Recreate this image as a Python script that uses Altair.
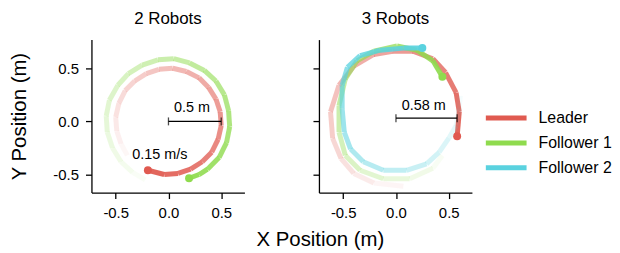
import altair as alt
import pandas as pd

FONT = "Liberation Sans"

series = ["Leader", "Follower 1", "Follower 2"]
series_colors = ["#E05A50", "#8FDB4E", "#5AD2DF"]
panel_titles = ["2 Robots", "3 Robots"]

# ---- 2 Robots (in time order) ----
r2_leader_x = [-0.39, -0.45, -0.49, -0.50, -0.47, -0.41, -0.32, -0.21, -0.09, 0.04, 0.17, 0.29,
               0.38, 0.45, 0.49, 0.50, 0.47, 0.41, 0.32, 0.21, 0.09, -0.04, -0.195]
r2_leader_y = [-0.32, -0.21, -0.09, 0.04, 0.17, 0.29, 0.38, 0.45, 0.49, 0.50, 0.47, 0.41,
               0.32, 0.21, 0.09, -0.04, -0.17, -0.29, -0.38, -0.45, -0.49, -0.50, -0.46]
r2_f1_x = [-0.22, -0.34, -0.45, -0.53, -0.58, -0.59, -0.56, -0.48, -0.38, -0.25, -0.10, 0.05,
           0.20, 0.34, 0.45, 0.53, 0.57, 0.58, 0.55, 0.48, 0.37, 0.29, 0.195]
r2_f1_y = [-0.55, -0.48, -0.38, -0.25, -0.10, 0.05, 0.20, 0.34, 0.45, 0.53, 0.58, 0.59,
           0.55, 0.48, 0.38, 0.25, 0.10, -0.05, -0.20, -0.34, -0.45, -0.50, -0.535]

# ---- 3 Robots ----
r3_leader_x = [0.07, -0.21, -0.40, -0.52, -0.60, -0.62, -0.54, -0.40, -0.21, -0.03, 0.16, 0.35,
               0.47, 0.57, 0.60, 0.58]
r3_leader_y = [-0.61, -0.58, -0.49, -0.35, -0.16, 0.09, 0.34, 0.52, 0.63, 0.66, 0.66, 0.59,
               0.46, 0.27, 0.09, -0.14]
r3_f1_x = [0.44, 0.35, 0.13, -0.12, -0.34, -0.48, -0.54, -0.54, -0.48, -0.37, -0.21, 0.01,
           0.20, 0.35, 0.44]
r3_f1_y = [-0.32, -0.44, -0.54, -0.54, -0.46, -0.32, -0.10, 0.15, 0.40, 0.57, 0.66, 0.71,
           0.67, 0.57, 0.42]
r3_f2_x = [0.61, 0.60, 0.57, 0.50, 0.41, 0.29, 0.10, -0.12, -0.31, -0.43, -0.49, -0.51,
           -0.51, -0.46, -0.34, -0.15, 0.07, 0.25]
r3_f2_y = [0.24, 0.12, -0.04, -0.16, -0.29, -0.40, -0.46, -0.46, -0.38, -0.26, -0.10, 0.12,
           0.34, 0.51, 0.62, 0.67, 0.69, 0.69]

# scale bars and annotations per panel
bar_x0 = [0.0, 0.0]
bar_x1 = [0.5, 0.58]
bar_y = [0.0, 0.03]
bar_labels = ["0.5 m", "0.58 m"]
bar_label_x = [0.224, 0.264]
bar_label_y = [0.087, 0.103]
speed_label = "0.15 m/s"
speed_label_x = -0.082
speed_label_y = -0.358

X_DOMAIN = [-0.73, 0.72]
Y_DOMAIN = [-0.67, 0.77]
TICKS = [-0.5, 0.0, 0.5]
LABEL_EXPR = "datum.value < 0 ? '-' + format(-datum.value, '.1f') : format(datum.value, '.1f')"
PW, PH = 154, 154


def segment_rows(xs, ys, name):
    rows = []
    n = len(xs)
    for i in range(n - 1):
        a = 0.03 + 0.92 * (i + 0.5) / (n - 1)
        for k in (0, 1):
            rows.append(dict(x=xs[i + k], y=ys[i + k], robot=name,
                             seg=f"{name}-{i}", ord=k, alpha=a))
    return rows


color_scale = alt.Scale(domain=series, range=series_colors)
title_style = dict(fontSize=17, font=FONT, fontWeight="normal", color="black", offset=12)


def panel(trajs, idx, show_y_labels):
    seg = []
    ends = []
    for (xs, ys, name) in trajs:
        seg += segment_rows(xs, ys, name)
        ends.append(dict(x=xs[-1], y=ys[-1], robot=name))
    seg_df = pd.DataFrame(seg)
    end_df = pd.DataFrame(ends)

    xax = alt.Axis(values=TICKS, labelExpr=LABEL_EXPR, title=None)
    if show_y_labels:
        yax = alt.Axis(values=TICKS, labelExpr=LABEL_EXPR, title="Y Position (m)")
    else:
        yax = alt.Axis(values=TICKS, labels=False, title=None)

    xs = alt.Scale(domain=X_DOMAIN, nice=False, zero=False)
    ys = alt.Scale(domain=Y_DOMAIN, nice=False, zero=False)

    lines = alt.Chart(seg_df).mark_line(strokeWidth=5, strokeCap="butt", clip=True).encode(
        x=alt.X("x:Q", scale=xs, axis=xax),
        y=alt.Y("y:Q", scale=ys, axis=yax),
        color=alt.Color("robot:N", scale=color_scale, legend=None),
        detail="seg:N",
        order="ord:Q",
        opacity=alt.Opacity("alpha:Q", scale=None, legend=None),
    )
    dots = alt.Chart(end_df).mark_circle(size=64, opacity=1).encode(
        x="x:Q", y="y:Q",
        color=alt.Color("robot:N", scale=color_scale, legend=None),
    )
    bar_df = pd.DataFrame(dict(x0=[bar_x0[idx]], x1=[bar_x1[idx]], y=[bar_y[idx]]))
    bar = alt.Chart(bar_df).mark_rule(color="black", strokeWidth=1.3).encode(
        x="x0:Q", x2="x1:Q", y="y:Q")
    caps_df = pd.DataFrame(dict(x=[bar_x0[idx], bar_x1[idx]], y=[bar_y[idx]] * 2))
    caps = alt.Chart(caps_df).mark_tick(orient="vertical", size=8, thickness=1.3,
                                        color="black").encode(x="x:Q", y="y:Q")
    lab_df = pd.DataFrame(dict(x=[bar_label_x[idx]], y=[bar_label_y[idx]],
                               t=[bar_labels[idx]]))
    if idx == 0:
        lab_df = pd.concat([lab_df, pd.DataFrame(dict(x=[speed_label_x], y=[speed_label_y],
                                                      t=[speed_label]))])
    labs = alt.Chart(lab_df).mark_text(font=FONT, fontSize=14.5, color="black",
                                       align="center", baseline="alphabetic").encode(
        x="x:Q", y="y:Q", text="t:N")

    return alt.layer(lines, dots, bar, caps, labs).properties(
        width=PW, height=PH,
        title=alt.TitleParams(panel_titles[idx], **title_style),
    )


left = panel([(r2_leader_x, r2_leader_y, "Leader"),
              (r2_f1_x, r2_f1_y, "Follower 1")], 0, True)
right = panel([(r3_leader_x, r3_leader_y, "Leader"),
               (r3_f1_x, r3_f1_y, "Follower 1"),
               (r3_f2_x, r3_f2_y, "Follower 2")], 1, False)

# legend drawn as its own small panel
leg_df = pd.DataFrame(dict(robot=series))
yleg = alt.Y("robot:N", scale=alt.Scale(type="point", domain=series, range=[79, 129],
                                        padding=0),
             axis=None)
leg_rules = alt.Chart(leg_df).mark_rule(strokeWidth=5).encode(
    x=alt.value(-61), x2=alt.value(-20), y=yleg,
    color=alt.Color("robot:N", scale=color_scale, legend=None))
leg_text = alt.Chart(leg_df).mark_text(align="left", baseline="middle", fontSize=16,
                                       font=FONT, color="black").encode(
    x=alt.value(-8), y=yleg, text="robot:N")
legend = alt.layer(leg_rules, leg_text).properties(width=1, height=PH)

chart = alt.hconcat(left, right, legend, spacing=75, bounds="flush").properties(
    padding={"left": 1, "top": 1, "right": 0, "bottom": 0},
    title=alt.TitleParams("X Position (m)", orient="bottom", anchor="middle",
                          fontSize=20.5, font=FONT, fontWeight="normal", color="black",
                          offset=10, dx=10),
).configure_view(stroke=None).configure_axis(
    domainColor="black", domainWidth=1.3, tickColor="black", tickWidth=1.3, tickSize=6,
    labelFont=FONT, labelFontSize=15, labelColor="black", labelPadding=7,
    titleFont=FONT, titleFontSize=20.5, titleFontWeight="normal", titleColor="black",
    titlePadding=24, grid=False,
)

chart.save("out.html", embed_options={"renderer": "svg", "actions": False})
